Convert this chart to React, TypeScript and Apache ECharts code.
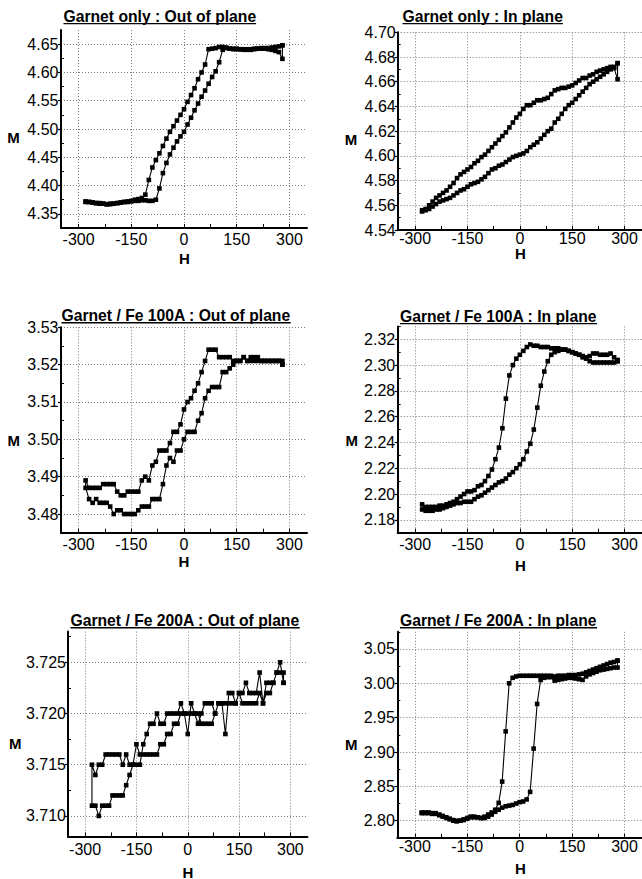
import React, { useEffect, useRef } from "react";
import * as echarts from "echarts";

// ---- data ----
const H_VALUES = [
  -280, -270, -260, -250, -240, -230, -220, -210, -200, -190,
  -180, -170, -160, -150, -140, -130, -120, -110, -100, -90,
  -80, -70, -60, -50, -40, -30, -20, -10, 0, 10,
  20, 30, 40, 50, 60, 70, 80, 90, 100, 110,
  120, 130, 140, 150, 160, 170, 180, 190, 200, 210,
  220, 230, 240, 250, 260, 270, 280,
];

const TITLES = [
  "Garnet only : Out of plane",
  "Garnet only : In plane",
  "Garnet / Fe 100A : Out of plane",
  "Garnet / Fe 100A : In plane",
  "Garnet / Fe 200A : Out of plane",
  "Garnet / Fe 200A : In plane",
];

const X_TICKS = [-300, -150, 0, 150, 300];
const X_MINOR_TICKS = [-225, -75, 75, 225];

// Garnet only : Out of plane
const P1_DOWN = [
  4.372, 4.371, 4.370, 4.369, 4.368, 4.368, 4.367, 4.368, 4.368, 4.369,
  4.370, 4.371, 4.372, 4.373, 4.375, 4.376, 4.378, 4.384, 4.410, 4.432,
  4.445, 4.457, 4.470, 4.483, 4.495, 4.505, 4.515, 4.525, 4.535, 4.548,
  4.560, 4.572, 4.588, 4.600, 4.614, 4.641, 4.642, 4.643, 4.645, 4.645,
  4.644, 4.642, 4.642, 4.642, 4.641, 4.641, 4.641, 4.641, 4.642, 4.642,
  4.643, 4.643, 4.643, 4.644, 4.645, 4.646, 4.648,
];
const P1_UP = [
  4.371, 4.371, 4.370, 4.369, 4.369, 4.368, 4.367, 4.367, 4.368, 4.369,
  4.370, 4.371, 4.371, 4.372, 4.373, 4.373, 4.374, 4.374, 4.373, 4.373,
  4.375, 4.395, 4.422, 4.440, 4.455, 4.467, 4.478, 4.487, 4.495, 4.508,
  4.520, 4.533, 4.545, 4.557, 4.568, 4.580, 4.592, 4.602, 4.618, 4.640,
  4.643, 4.642, 4.641, 4.641, 4.641, 4.640, 4.640, 4.640, 4.641, 4.642,
  4.642, 4.642, 4.641, 4.640, 4.638, 4.636, 4.624,
];
const P1_Y_TICKS = [4.35, 4.4, 4.45, 4.5, 4.55, 4.6, 4.65];
const P1_Y_MINOR = [4.375, 4.425, 4.475, 4.525, 4.575, 4.625];

// Garnet only : In plane
const P2_DOWN = [
  4.556, 4.557, 4.560, 4.563, 4.566, 4.568, 4.570, 4.572, 4.575, 4.578,
  4.582, 4.585, 4.587, 4.589, 4.591, 4.594, 4.596, 4.599, 4.601, 4.604,
  4.607, 4.610, 4.613, 4.616, 4.619, 4.623, 4.627, 4.631, 4.634, 4.638,
  4.641, 4.641, 4.643, 4.645, 4.645, 4.646, 4.647, 4.650, 4.653, 4.654,
  4.655, 4.655, 4.656, 4.657, 4.659, 4.661, 4.663, 4.663, 4.665, 4.666,
  4.668, 4.669, 4.670, 4.671, 4.672, 4.672, 4.675,
];
const P2_UP = [
  4.555, 4.556, 4.557, 4.559, 4.561, 4.563, 4.564, 4.565, 4.566, 4.568,
  4.570, 4.572, 4.573, 4.575, 4.577, 4.578, 4.579, 4.581, 4.583, 4.586,
  4.589, 4.590, 4.592, 4.593, 4.595, 4.597, 4.599, 4.600, 4.601, 4.602,
  4.604, 4.607, 4.609, 4.611, 4.614, 4.617, 4.620, 4.622, 4.627, 4.630,
  4.634, 4.638, 4.641, 4.643, 4.646, 4.649, 4.652, 4.655, 4.658, 4.660,
  4.662, 4.664, 4.666, 4.668, 4.670, 4.671, 4.662,
];
const P2_Y_TICKS = [4.54, 4.56, 4.58, 4.6, 4.62, 4.64, 4.66, 4.68, 4.7];
const P2_Y_MINOR = [4.55, 4.57, 4.59, 4.61, 4.63, 4.65, 4.67, 4.69];

// Garnet / Fe 100A : Out of plane
const P3_DOWN = [
  3.489, 3.487, 3.487, 3.487, 3.487, 3.488, 3.488, 3.488, 3.488, 3.486,
  3.485, 3.485, 3.486, 3.486, 3.486, 3.486, 3.489, 3.490, 3.489, 3.493,
  3.494, 3.497, 3.497, 3.497, 3.499, 3.502, 3.502, 3.504, 3.508, 3.510,
  3.511, 3.513, 3.515, 3.518, 3.521, 3.524, 3.524, 3.524, 3.522, 3.522,
  3.522, 3.522, 3.521, 3.521, 3.521, 3.522, 3.521, 3.522, 3.522, 3.522,
  3.521, 3.521, 3.521, 3.521, 3.521, 3.521, 3.520,
];
const P3_UP = [
  3.487, 3.484, 3.483, 3.484, 3.483, 3.483, 3.483, 3.482, 3.480, 3.481,
  3.481, 3.480, 3.480, 3.480, 3.480, 3.481, 3.482, 3.482, 3.482, 3.484,
  3.484, 3.484, 3.488, 3.493, 3.495, 3.494, 3.497, 3.497, 3.500, 3.502,
  3.502, 3.502, 3.505, 3.507, 3.511, 3.513, 3.514, 3.514, 3.514, 3.518,
  3.518, 3.519, 3.520, 3.521, 3.521, 3.522, 3.521, 3.521, 3.521, 3.521,
  3.521, 3.521, 3.521, 3.521, 3.521, 3.521, 3.521,
];
const P3_Y_TICKS = [3.48, 3.49, 3.5, 3.51, 3.52, 3.53];
const P3_Y_MINOR = [3.485, 3.495, 3.505, 3.515, 3.525];

// Garnet / Fe 100A : In plane
const P4_DOWN = [
  2.192, 2.190, 2.190, 2.190, 2.190, 2.191, 2.191, 2.192, 2.193, 2.194,
  2.196, 2.198, 2.200, 2.202, 2.202, 2.203, 2.206, 2.207, 2.210, 2.214,
  2.219, 2.227, 2.236, 2.251, 2.274, 2.292, 2.300, 2.305, 2.308, 2.311,
  2.314, 2.316, 2.315, 2.315, 2.314, 2.314, 2.314, 2.313, 2.313, 2.313,
  2.312, 2.312, 2.311, 2.310, 2.309, 2.308, 2.307, 2.306, 2.303, 2.302,
  2.302, 2.302, 2.302, 2.302, 2.302, 2.302, 2.303,
];
const P4_UP = [
  2.188, 2.187, 2.187, 2.187, 2.188, 2.188, 2.189, 2.190, 2.191, 2.192,
  2.193, 2.193, 2.194, 2.194, 2.194, 2.196, 2.198, 2.199, 2.201, 2.203,
  2.205, 2.207, 2.209, 2.210, 2.212, 2.215, 2.217, 2.220, 2.223, 2.227,
  2.233, 2.239, 2.250, 2.267, 2.284, 2.295, 2.303, 2.308, 2.310, 2.311,
  2.312, 2.312, 2.311, 2.310, 2.309, 2.308, 2.306, 2.305, 2.307, 2.309,
  2.309, 2.308, 2.308, 2.308, 2.309, 2.306, 2.304,
];
const P4_Y_TICKS = [2.18, 2.2, 2.22, 2.24, 2.26, 2.28, 2.3, 2.32];
const P4_Y_MINOR = [2.17, 2.19, 2.21, 2.23, 2.25, 2.27, 2.29, 2.31, 2.33];

// Garnet / Fe 200A : Out of plane
const P5_DOWN = [
  3.715, 3.714, 3.715, 3.715, 3.716, 3.716, 3.716, 3.716, 3.716, 3.715,
  3.716, 3.715, 3.715, 3.715, 3.715, 3.717, 3.718, 3.719, 3.719, 3.720,
  3.719, 3.719, 3.720, 3.720, 3.720, 3.720, 3.721, 3.720, 3.718, 3.721,
  3.720, 3.719, 3.720, 3.721, 3.721, 3.721, 3.720, 3.721, 3.721, 3.718,
  3.722, 3.722, 3.721, 3.722, 3.722, 3.723, 3.722, 3.722, 3.722, 3.724,
  3.721, 3.723, 3.723, 3.723, 3.724, 3.725, 3.723,
];
const P5_UP = [
  3.711, 3.711, 3.710, 3.711, 3.711, 3.711, 3.712, 3.712, 3.712, 3.712,
  3.713, 3.714, 3.715, 3.717, 3.716, 3.716, 3.716, 3.716, 3.716, 3.716,
  3.717, 3.717, 3.718, 3.718, 3.719, 3.719, 3.720, 3.720, 3.720, 3.720,
  3.720, 3.720, 3.719, 3.719, 3.719, 3.719, 3.720, 3.721, 3.721, 3.721,
  3.721, 3.721, 3.721, 3.722, 3.721, 3.721, 3.721, 3.721, 3.721, 3.722,
  3.721, 3.722, 3.722, 3.723, 3.724, 3.724, 3.724,
];
const P5_Y_TICKS = [3.71, 3.715, 3.72, 3.725];
const P5_Y_MINOR = [3.7125, 3.7175, 3.7225, 3.7275];

// Garnet / Fe 200A : In plane
const P6_DOWN = [
  2.812, 2.812, 2.812, 2.811, 2.811, 2.809, 2.807, 2.805, 2.803, 2.801,
  2.800, 2.800, 2.801, 2.803, 2.805, 2.805, 2.805, 2.804, 2.806, 2.809,
  2.812, 2.816, 2.826, 2.857, 2.930, 3.000, 3.008, 3.010, 3.011, 3.011,
  3.011, 3.011, 3.011, 3.011, 3.011, 3.011, 3.011, 3.011, 3.010, 3.011,
  3.011, 3.011, 3.012, 3.012, 3.012, 3.013, 3.014, 3.016, 3.018, 3.020,
  3.022, 3.024, 3.026, 3.028, 3.030, 3.031, 3.033,
];
const P6_UP = [
  2.811, 2.811, 2.811, 2.810, 2.810, 2.808, 2.806, 2.804, 2.802, 2.800,
  2.799, 2.800, 2.802, 2.804, 2.806, 2.806, 2.805, 2.804, 2.804, 2.806,
  2.809, 2.813, 2.816, 2.819, 2.821, 2.822, 2.823, 2.825, 2.827, 2.828,
  2.831, 2.842, 2.905, 2.970, 3.005, 3.008, 3.009, 3.009, 3.004, 3.005,
  3.006, 3.007, 3.008, 3.008, 3.007, 3.006, 3.005, 3.010, 3.013, 3.015,
  3.017, 3.019, 3.020, 3.021, 3.022, 3.023, 3.023,
];
const P6_Y_TICKS = [2.8, 2.85, 2.9, 2.95, 3.0, 3.05];
const P6_Y_MINOR = [2.775, 2.825, 2.875, 2.925, 2.975, 3.025, 3.075];

// ---- layout (positions / styles) ----
const FONT = "'Liberation Sans', Arial, Helvetica, sans-serif";
const TITLE_SIZE = 15.7;

const PANELS = [
  { down: P1_DOWN, up: P1_UP, yTicks: P1_Y_TICKS, yMinor: P1_Y_MINOR, yMin: 4.325, yMax: 4.675, dec: 2,
    grid: { left: 61, top: 30, width: 246, height: 198 }, yMargin: 2.5, xMargin: 3,
    tX: 63.5, tY: 16.3, mX: 13.5, mY: 137, hX: 184.5, hY: 258.7 },
  { down: P2_DOWN, up: P2_UP, yTicks: P2_Y_TICKS, yMinor: P2_Y_MINOR, yMin: 4.54, yMax: 4.7, dec: 2,
    grid: { left: 397.7, top: 32.3, width: 245, height: 197.7 }, yMargin: 2, xMargin: 0,
    tX: 402.5, tY: 16.3, mX: 351, mY: 139.5, hX: 520.3, hY: 253.5 },
  { down: P3_DOWN, up: P3_UP, yTicks: P3_Y_TICKS, yMinor: P3_Y_MINOR, yMin: 3.475, yMax: 3.53, dec: 2,
    grid: { left: 61, top: 327.3, width: 246, height: 205.4 }, yMargin: 2.5, xMargin: 3.5,
    tX: 61.5, tY: 315.5, mX: 13.8, mY: 440, hX: 184, hY: 561.7 },
  { down: P4_DOWN, up: P4_UP, yTicks: P4_Y_TICKS, yMinor: P4_Y_MINOR, yMin: 2.17, yMax: 2.33, dec: 2,
    grid: { left: 397.7, top: 326.4, width: 245, height: 206.3 }, yMargin: 2.5, xMargin: 3.5,
    tX: 400, tY: 316.3, mX: 351.7, mY: 440, hX: 520.3, hY: 565 },
  { down: P5_DOWN, up: P5_UP, yTicks: P5_Y_TICKS, yMinor: P5_Y_MINOR, yMin: 3.708, yMax: 3.728, dec: 3,
    grid: { left: 68, top: 631.6, width: 239.5, height: 204.8 }, yMargin: 2, xMargin: 5,
    tX: 70.5, tY: 620.5, mX: 15.3, mY: 743, hX: 188, hY: 872 },
  { down: P6_DOWN, up: P6_UP, yTicks: P6_Y_TICKS, yMinor: P6_Y_MINOR, yMin: 2.775, yMax: 3.075, dec: 2,
    grid: { left: 397.3, top: 631.8, width: 245, height: 206.1 }, yMargin: 2.5, xMargin: 0.5,
    tX: 400, tY: 620.5, mX: 351.3, mY: 744, hX: 520.3, hY: 868 },
];

function measure(text: string, font: string): number {
  const c = document.createElement("canvas");
  const ctx = c.getContext("2d");
  if (!ctx) return text.length * 8;
  ctx.font = font;
  return ctx.measureText(text).width;
}

function buildOption() {
  const grids: any[] = [];
  const xAxes: any[] = [];
  const yAxes: any[] = [];
  const series: any[] = [];
  const graphics: any[] = [];
  const gridLine = { show: true, lineStyle: { color: "#7a7a7a", type: [1, 2], width: 1 } };

  PANELS.forEach((p, i) => {
    grids.push({ ...p.grid, containLabel: false });
    const axisLabelStyle = { color: "#000", fontSize: 16, fontFamily: FONT };
    // primary x axis
    xAxes.push({
      type: "value", gridIndex: i, min: -350, max: 350, position: "bottom",
      axisLine: { show: true, onZero: false, lineStyle: { color: "#000", width: 2 } },
      axisTick: { show: true, inside: true, length: 4, customValues: X_TICKS, lineStyle: { color: "#000", width: 1 } },
      axisLabel: { ...axisLabelStyle, margin: p.xMargin, customValues: X_TICKS, formatter: (v: number) => String(v) },
      splitLine: gridLine,
      minorTick: { show: false },
    });
    // minor-tick x axis
    xAxes.push({
      type: "value", gridIndex: i, min: -350, max: 350, position: "bottom", offset: 0,
      axisLine: { show: false, onZero: false },
      axisTick: { show: true, inside: true, length: 4, customValues: X_MINOR_TICKS, lineStyle: { color: "#000", width: 1 } },
      axisLabel: { show: false },
      splitLine: { show: false },
    });
    yAxes.push({
      type: "value", gridIndex: i, min: p.yMin, max: p.yMax, position: "left",
      axisLine: { show: true, onZero: false, lineStyle: { color: "#000", width: 2 } },
      axisTick: { show: true, inside: false, length: 3, customValues: p.yTicks, lineStyle: { color: "#000", width: 1.2 } },
      axisLabel: { ...axisLabelStyle, margin: p.yMargin, customValues: p.yTicks, formatter: (v: number) => v.toFixed(p.dec) },
      splitLine: gridLine,
    });
    yAxes.push({
      type: "value", gridIndex: i, min: p.yMin, max: p.yMax, position: "left", offset: 0,
      axisLine: { show: false, onZero: false },
      axisTick: { show: true, inside: true, length: 3, customValues: p.yMinor, lineStyle: { color: "#000", width: 1 } },
      axisLabel: { show: false },
      splitLine: { show: false },
    });

    const downPts = p.down.map((m, k) => [H_VALUES[k], m]).reverse();
    const upPts = p.up.map((m, k) => [H_VALUES[k], m]);
    const loop = [...downPts, ...upPts, downPts[0]];
    series.push({
      type: "line", xAxisIndex: 2 * i, yAxisIndex: 2 * i, data: loop,
      symbol: "rect", symbolSize: 4.6, showSymbol: true, showAllSymbol: true,
      lineStyle: { color: "#000", width: 1.1 }, itemStyle: { color: "#000" },
      silent: true, z: 3,
    });

    // title with underline
    const titleFont = `bold ${TITLE_SIZE}px 'Liberation Sans', Arial, sans-serif`;
    const tw = measure(TITLES[i], titleFont);
    graphics.push({
      type: "text", x: p.tX, y: p.tY, silent: true,
      style: { text: TITLES[i], fill: "#000", fontSize: TITLE_SIZE, fontWeight: "bold", fontFamily: FONT,
        align: "left", verticalAlign: "middle", textAlign: "left", textVerticalAlign: "middle" },
    });
    graphics.push({
      type: "line", silent: true,
      shape: { x1: p.tX, y1: p.tY + 7.3, x2: p.tX + tw, y2: p.tY + 7.3 },
      style: { stroke: "#000", lineWidth: 1.4 },
    });
    graphics.push({
      type: "text", x: p.mX, y: p.mY, silent: true,
      style: { text: "M", fill: "#000", fontSize: 15, fontWeight: "bold", fontFamily: FONT,
        align: "center", verticalAlign: "middle", textAlign: "center", textVerticalAlign: "middle" },
    });
    graphics.push({
      type: "text", x: p.hX, y: p.hY, silent: true,
      style: { text: "H", fill: "#000", fontSize: 15, fontWeight: "bold", fontFamily: FONT,
        align: "center", verticalAlign: "middle", textAlign: "center", textVerticalAlign: "middle" },
    });
  });

  return {
    animation: false,
    backgroundColor: "#fff",
    grid: grids,
    xAxis: xAxes,
    yAxis: yAxes,
    series,
    graphic: graphics,
  };
}

export default function App() {
  const ref = useRef<HTMLDivElement>(null);
  useEffect(() => {
    document.body.style.margin = "0";
    if (!ref.current) return;
    const chart = echarts.init(ref.current, null, { renderer: "svg" });
    chart.setOption(buildOption() as any);
    return () => chart.dispose();
  }, []);
  return <div ref={ref} style={{ width: 642, height: 879, background: "#fff" }} />;
}
